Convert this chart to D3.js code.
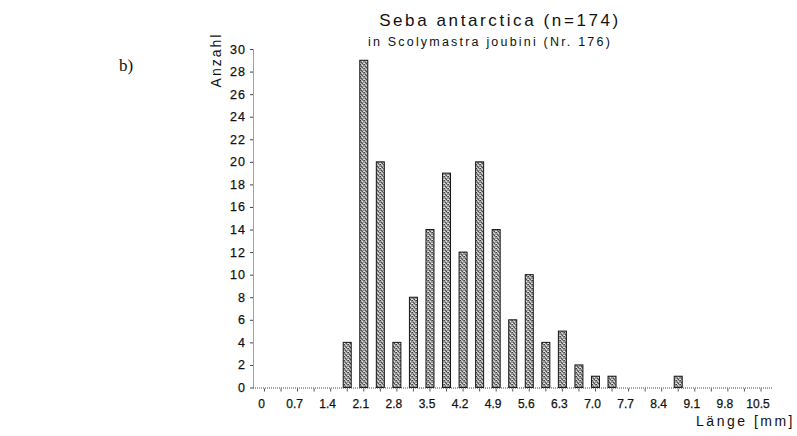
<!DOCTYPE html>
<html>
<head>
<meta charset="utf-8">
<script src="https://cdn.jsdelivr.net/npm/d3@7"></script>
<style>
  html, body { margin: 0; padding: 0; background: #fff; }
  svg { display: block; }
  .sans { font-family: "Liberation Sans", Arial, sans-serif; fill: #111; }
  .serif { font-family: "Liberation Serif", "Times New Roman", serif; fill: #111; }
</style>
</head>
<body>
<svg id="chart" width="797" height="436"></svg>
<script>
// Length classes (mm), 0.35 mm steps
const lengthClasses = [0, 0.35, 0.7, 1.05, 1.4, 1.75, 2.1, 2.45, 2.8, 3.15, 3.5, 3.85,
  4.2, 4.55, 4.9, 5.25, 5.6, 5.95, 6.3, 6.65, 7.0, 7.35, 7.7, 8.05, 8.4, 8.75,
  9.1, 9.45, 9.8, 10.15, 10.5];
// Number of individuals per length class
const counts = [0, 0, 0, 0, 0, 4, 29, 20, 4, 8, 14, 19,
  12, 20, 14, 6, 10, 4, 5, 2, 1, 1, 0, 0, 0, 1,
  0, 0, 0, 0, 0];
const xTickLabels = ["0", "0.7", "1.4", "2.1", "2.8", "3.5", "4.2", "4.9", "5.6",
  "6.3", "7.0", "7.7", "8.4", "9.1", "9.8", "10.5"];
const yTicks = [0, 2, 4, 6, 8, 10, 12, 14, 16, 18, 20, 22, 24, 26, 28, 30];

const svg = d3.select("#chart");

// stippled grey fill for the bars
const defs = svg.append("defs");
const pat = defs.append("pattern")
  .attr("id", "stipple").attr("patternUnits", "userSpaceOnUse")
  .attr("width", 4).attr("height", 4);
pat.append("rect").attr("width", 4).attr("height", 4).attr("fill", "#979797");
[[0,0,"#404040"],[2,1,"#e2e2e2"],[1,2,"#505050"],[3,3,"#d4d4d4"],[3,0,"#6c6c6c"],[0,3,"#ebebeb"],[2,3,"#484848"],[1,0,"#cacaca"]]
  .forEach(([px, py, c]) => pat.append("rect").attr("x", px).attr("y", py)
    .attr("width", 1).attr("height", 1).attr("fill", c));

const axisX0 = 253, axisX1 = 773;
const x = d3.scaleBand()
  .domain(lengthClasses)
  .range([256.2, 256.2 + 31 * 16.55])
  .paddingInner(0).paddingOuter(0);
const y = d3.scaleLinear().domain([0, 30]).range([387.5, 49]);

const barW = 8;

// bars
svg.append("g").selectAll("rect")
  .data(lengthClasses.map((c, i) => ({ c, v: counts[i] })).filter(d => d.v > 0))
  .join("rect")
  .attr("x", d => x(d.c) + x.bandwidth() / 2 - barW / 2)
  .attr("y", d => y(d.v))
  .attr("width", barW)
  .attr("height", d => y(0) - y(d.v))
  .attr("fill", "url(#stipple)")
  .attr("stroke", "#151515")
  .attr("stroke-width", 1);

// y axis
const yAxis = d3.axisLeft(y).tickValues(yTicks).tickSize(3).tickPadding(4);
const gy = svg.append("g").attr("transform", `translate(${axisX0},0)`).call(yAxis);
gy.attr("font-family", null).attr("font-size", null);
gy.select(".domain").attr("stroke", "#444").attr("stroke-dasharray", "1,1").attr("d", `M0.5,${y(0)}V${y(30)}`);
gy.selectAll(".tick line").attr("stroke", "#444");
gy.selectAll(".tick text").attr("class", "sans").attr("font-size", 12.5)
  .attr("letter-spacing", 1).attr("stroke", "#111").attr("stroke-width", 0.25);

// x axis
const gx = svg.append("g").attr("transform", `translate(0,${y(0)})`);
gx.append("line").attr("x1", axisX0).attr("x2", axisX1).attr("y1", 0.5).attr("y2", 0.5)
  .attr("stroke", "#444").attr("stroke-dasharray", "1,1");
gx.selectAll(".xtick").data(lengthClasses).join("line")
  .attr("class", "xtick")
  .attr("x1", d => x(d) + x.bandwidth() / 2).attr("x2", d => x(d) + x.bandwidth() / 2)
  .attr("y1", 1).attr("y2", 4).attr("stroke", "#555");
gx.selectAll(".xlab").data(xTickLabels).join("text")
  .attr("class", "xlab sans")
  .attr("x", (d, i) => x(lengthClasses[i * 2]) + x.bandwidth() / 2 - 3)
  .attr("y", 20.5)
  .attr("text-anchor", "middle")
  .attr("font-size", 12)
  .attr("stroke", "#111").attr("stroke-width", 0.25)
  .text(d => d);

// axis titles
svg.append("text").attr("class", "sans").attr("transform", "translate(221,60) rotate(-90)")
  .attr("text-anchor", "middle").attr("font-size", 14).attr("letter-spacing", 2).text("Anzahl");
svg.append("text").attr("class", "sans").attr("x", 795).attr("y", 426)
  .attr("text-anchor", "end").attr("font-size", 14).attr("letter-spacing", 2.5).text("Länge [mm]");

// titles
svg.append("text").attr("class", "sans").attr("x", 500).attr("y", 26)
  .attr("text-anchor", "middle").attr("font-size", 17).attr("letter-spacing", 2.6)
  .text("Seba antarctica (n=174)");
svg.append("text").attr("class", "sans").attr("x", 490).attr("y", 46)
  .attr("text-anchor", "middle").attr("font-size", 12.5).attr("letter-spacing", 2.2)
  .text("in Scolymastra joubini (Nr. 176)");

// panel label
svg.append("text").attr("class", "serif").attr("x", 119).attr("y", 71)
  .attr("font-size", 17).text("b)");
</script>
</body>
</html>
